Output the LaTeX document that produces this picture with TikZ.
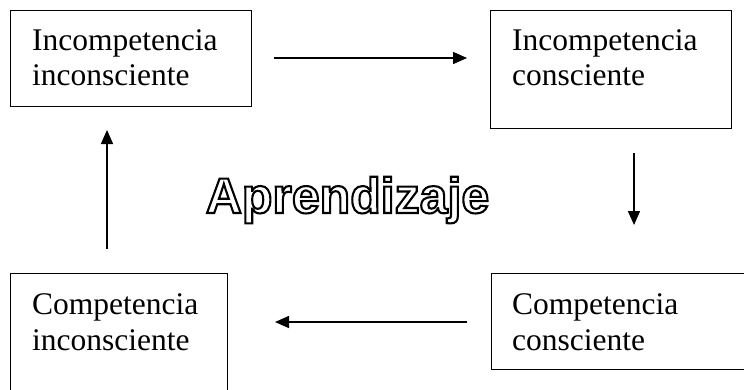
\documentclass[tikz,border=0pt]{standalone}
\usepackage{fontspec}
\setmainfont{Liberation Serif}
\newfontfamily\arialfam{Liberation Sans}
\usetikzlibrary{arrows.meta}
\newcommand{\outlinetext}[1]{\special{pdf:literal direct 1 Tr 2.1 w}#1\special{pdf:literal direct 0 Tr}}
\tikzset{
  boxnode/.style={draw, line width=1.3pt, anchor=north west, inner sep=0pt},
  label/.style={anchor=base west, inner sep=0pt, align=left, font=\fontsize{31.5}{35.5}\selectfont},
  flow/.style={line width=1.5pt, -{Triangle[length=14pt,width=12pt]}}
}
\begin{document}
\begin{tikzpicture}[x=1pt,y=-1pt]
\useasboundingbox (0,0) rectangle (744,389);
\fill[white] (0,0) rectangle (744,389);
% boxes
\node[boxnode, minimum width=241pt, minimum height=96pt] (b1) at (10,10) {};
\node[boxnode, minimum width=241pt, minimum height=118pt] (b2) at (490,10) {};
\node[boxnode, minimum width=217pt, minimum height=125pt] (b3) at (10,273) {};
\node[boxnode, minimum width=260pt, minimum height=96pt] (b4) at (491,273) {};
% texts
\node[label] (t1) at (32,50) {Incompetencia};
\node[label] (t1b) at (32,85) {inconsciente};
\node[label] (t2) at (512,50) {Incompetencia};
\node[label] (t2b) at (512,85) {consciente};
\node[label] (t3) at (32,314) {Competencia};
\node[label] (t3b) at (32,350) {inconsciente};
\node[label] (t4) at (512,314) {Competencia};
\node[label] (t4b) at (512,350) {consciente};
% center word
\node[anchor=base, inner sep=0pt, font=\arialfam\bfseries\fontsize{50}{52}\selectfont] (ap) at (347.5,213) {\outlinetext{Aprendizaje}};
% arrow coordinates
\coordinate (r1) at (274,58);
\coordinate (r2) at (467,58);
\coordinate (d1) at (634,153);
\coordinate (d2) at (634,225);
\coordinate (l1) at (467,322);
\coordinate (l2) at (275,322);
\coordinate (u1) at (107,249);
\coordinate (u2) at (107,130);
\draw[flow] (r1) -- (r2);
\draw[flow] (d1) -- (d2);
\draw[flow] (l1) -- (l2);
\draw[flow] (u1) -- (u2);
\end{tikzpicture}
\end{document}
